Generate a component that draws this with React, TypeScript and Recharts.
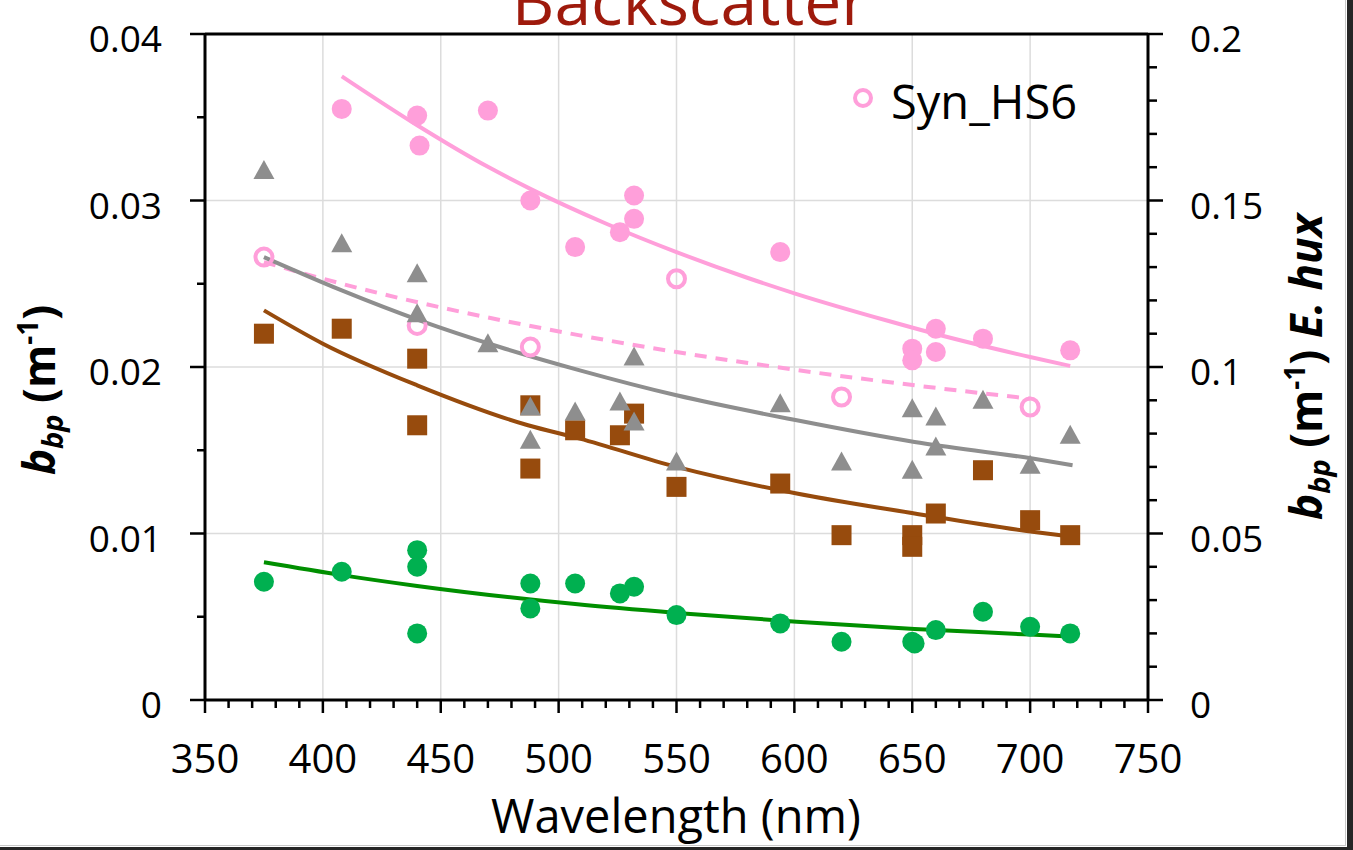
import React from 'react';
import {
  ComposedChart,
  Scatter,
  Line,
  XAxis,
  YAxis,
  CartesianGrid,
  ReferenceLine,
} from 'recharts';

// E. hux (right axis)
const ehuxNm = [408, 440, 441, 470, 488, 507, 526, 532, 532, 594, 650, 650, 660, 660, 680, 717];
const ehuxBbp = [0.1775, 0.1755, 0.1665, 0.177, 0.15, 0.136, 0.1405, 0.1515, 0.1445, 0.1345, 0.1055, 0.102, 0.1115, 0.1045, 0.1085, 0.105];
const ehuxFitNm = [408, 440, 470, 488, 520, 550, 580, 601, 640, 660, 700, 717];
const ehuxFitBbp = [0.1873, 0.1726, 0.1601, 0.1535, 0.1431, 0.1345, 0.1268, 0.1219, 0.1138, 0.1099, 0.103, 0.1003];

// Syn_HS6 (open circles)
const synNm = [375, 440, 488, 550, 620, 700];
const synBbp = [0.0266, 0.0225, 0.0212, 0.0253, 0.0182, 0.0176];
const synFitNm = [375, 399, 423, 450, 509, 550, 601, 651, 700];
const synFitBbp = [0.0263, 0.02534, 0.02446, 0.02358, 0.0219, 0.0209, 0.01982, 0.0189, 0.0181];

// grey triangles
const greyNm = [375, 408, 440, 440, 470, 488, 488, 507, 526, 532, 532, 550, 594, 620, 650, 650, 660, 660, 680, 700, 717];
const greyBbp = [0.0318, 0.0274, 0.0256, 0.0232, 0.0214, 0.0176, 0.0156, 0.0173, 0.0179, 0.0206, 0.0167, 0.0143, 0.0178, 0.0143, 0.0175, 0.0138, 0.017, 0.0152, 0.018, 0.0141, 0.0159];
const greyFitNm = [375, 408, 441, 475, 509, 550, 601, 651, 701, 718];
const greyFitBbp = [0.0266, 0.0246, 0.0228, 0.0212, 0.0198, 0.0183, 0.0168, 0.0155, 0.0145, 0.0141];

// brown squares
const brownNm = [375, 408, 440, 440, 488, 488, 507, 526, 532, 550, 594, 620, 650, 650, 660, 680, 700, 717];
const brownBbp = [0.022, 0.0223, 0.0205, 0.0165, 0.0177, 0.0139, 0.0162, 0.0159, 0.0172, 0.0128, 0.013, 0.0099, 0.0099, 0.0092, 0.0112, 0.0138, 0.0108, 0.0099];
const brownFitNm = [375, 400, 440, 487, 509, 550, 601, 651, 701, 718];
const brownFitBbp = [0.0234, 0.0214, 0.0189, 0.0165, 0.0157, 0.014, 0.0124, 0.0112, 0.0101, 0.0098];

// green circles
const greenNm = [375, 408, 440, 440, 440, 488, 488, 507, 526, 532, 550, 594, 620, 650, 651, 660, 680, 700, 717];
const greenBbp = [0.0071, 0.0077, 0.009, 0.008, 0.004, 0.007, 0.0055, 0.007, 0.0064, 0.0068, 0.0051, 0.0046, 0.0035, 0.0035, 0.0034, 0.0042, 0.0053, 0.0044, 0.004];
const greenFitNm = [375, 408, 440, 507, 550, 601, 651, 700, 718];
const greenFitBbp = [0.00827, 0.0075, 0.00685, 0.00576, 0.00523, 0.0047, 0.00427, 0.00393, 0.0038];

const xMajor = [350, 400, 450, 500, 550, 600, 650, 700, 750];
const xTicks = Array.from({ length: 41 }, (_, i) => 350 + i * 10);
const leftTicks = [0, 0.005, 0.01, 0.015, 0.02, 0.025, 0.03, 0.035, 0.04];
const leftMajor = [0, 0.01, 0.02, 0.03, 0.04];
const rightTicks = [0, 0.01, 0.02, 0.03, 0.04, 0.05, 0.06, 0.07, 0.08, 0.09, 0.1, 0.11, 0.12, 0.13, 0.14, 0.15, 0.16, 0.17, 0.18, 0.19, 0.2];
const rightMajor = [0, 0.05, 0.1, 0.15, 0.2];

const pts = (xs: number[], ys: number[]) => xs.map((x, i) => ({ x, y: ys[i] }));

const PINK = '#FF9FDA';
const GREY = '#8E8E8E';
const BROWN = '#974B0D';
const GREEN_DOT = '#00B050';
const GREEN_LINE = '#008F00';
const FONT = '"Open Sans", sans-serif';

const XTick = (props: any) => {
  const { x, y, payload } = props;
  const major = xMajor.includes(payload.value);
  return (
    <g>
      <line x1={x} x2={x} y1={y} y2={y + (major ? 13 : 8)} stroke="#000" strokeWidth={2.5} />
      {major && (
        <text x={x} y={y + 73} textAnchor="middle" fontSize={40} fontFamily={FONT} fill="#000">
          {payload.value}
        </text>
      )}
    </g>
  );
};

const LeftTick = (props: any) => {
  const { x, y, payload } = props;
  const major = leftMajor.includes(payload.value);
  return (
    <g>
      <line x1={x - (major ? 15 : 8)} x2={x} y1={y} y2={y} stroke="#000" strokeWidth={2.5} />
      {major && (
        <text x={x - 43} y={y + 18} textAnchor="end" fontSize={37} fontFamily={FONT} fill="#000">
          {String(payload.value)}
        </text>
      )}
    </g>
  );
};

const RightTick = (props: any) => {
  const { x, y, payload } = props;
  const major = rightMajor.includes(payload.value);
  return (
    <g>
      <line x1={x} x2={x + (major ? 15 : 9)} y1={y} y2={y} stroke="#000" strokeWidth={2.5} />
      {major && (
        <text x={x + 42} y={y + 18} textAnchor="start" fontSize={37} fontFamily={FONT} fill="#000">
          {String(payload.value)}
        </text>
      )}
    </g>
  );
};

const dot = (color: string) => (p: any) => <circle cx={p.cx} cy={p.cy} r={10} fill={color} />;
const ring = (p: any) => <circle cx={p.cx} cy={p.cy} r={8.5} fill="none" stroke={PINK} strokeWidth={4} />;
const square = (p: any) => <rect x={p.cx - 10} y={p.cy - 10} width={20} height={20} fill={BROWN} />;
const triangle = (p: any) => (
  <polygon points={`${p.cx},${p.cy - 10.5} ${p.cx - 10.5},${p.cy + 8.5} ${p.cx + 10.5},${p.cy + 8.5}`} fill={GREY} />
);

export default function App() {
  return (
    <div style={{ position: 'absolute', left: 0, top: 0, width: 1353, height: 850, background: '#fff', overflow: 'hidden' }}>
      <ComposedChart width={1353} height={850} margin={{ top: 34, right: 0, bottom: 0, left: 0 }}>
        <CartesianGrid
          xAxisId="x"
          yAxisId="left"
          stroke="#DCDCDC"
          strokeWidth={1.5}
          verticalValues={xMajor}
          horizontalValues={leftMajor}
        />
        <XAxis
          xAxisId="x"
          dataKey="x"
          type="number"
          domain={[350, 750]}
          ticks={xTicks}
          interval={0}
          height={150}
          tickSize={0}
          tickMargin={0}
          tickLine={false}
          tick={XTick}
          axisLine={{ stroke: '#000', strokeWidth: 3 }}
        />
        <YAxis
          yAxisId="left"
          dataKey="y"
          type="number"
          domain={[0, 0.04]}
          ticks={leftTicks}
          interval={0}
          width={205}
          tickSize={0}
          tickMargin={0}
          tickLine={false}
          tick={LeftTick}
          axisLine={{ stroke: '#000', strokeWidth: 3 }}
        />
        <YAxis
          yAxisId="right"
          orientation="right"
          dataKey="y"
          type="number"
          domain={[0, 0.2]}
          ticks={rightTicks}
          interval={0}
          width={205}
          tickSize={0}
          tickMargin={0}
          tickLine={false}
          tick={RightTick}
          axisLine={{ stroke: '#000', strokeWidth: 3 }}
        />
        <ReferenceLine xAxisId="x" yAxisId="left" y={0.04} stroke="#000" strokeWidth={3} />

        <Scatter xAxisId="x" yAxisId="right" data={pts(ehuxNm, ehuxBbp)} shape={dot(PINK)} isAnimationActive={false} />
        <Scatter xAxisId="x" yAxisId="left" data={pts(synNm, synBbp)} shape={ring} isAnimationActive={false} />
        <Scatter xAxisId="x" yAxisId="left" data={pts(brownNm, brownBbp)} shape={square} isAnimationActive={false} />
        <Scatter xAxisId="x" yAxisId="left" data={pts(greyNm, greyBbp)} shape={triangle} isAnimationActive={false} />
        <Scatter xAxisId="x" yAxisId="left" data={pts(greenNm, greenBbp)} shape={dot(GREEN_DOT)} isAnimationActive={false} />

        <Line xAxisId="x" yAxisId="right" data={pts(ehuxFitNm, ehuxFitBbp)} dataKey="y" type="monotone" stroke={PINK} strokeWidth={4} dot={false} isAnimationActive={false} />
        <Line xAxisId="x" yAxisId="left" data={pts(synFitNm, synFitBbp)} dataKey="y" type="monotone" stroke={PINK} strokeWidth={4} strokeDasharray="12 9" dot={false} isAnimationActive={false} />
        <Line xAxisId="x" yAxisId="left" data={pts(greyFitNm, greyFitBbp)} dataKey="y" type="monotone" stroke={GREY} strokeWidth={4} dot={false} isAnimationActive={false} />
        <Line xAxisId="x" yAxisId="left" data={pts(brownFitNm, brownFitBbp)} dataKey="y" type="monotone" stroke={BROWN} strokeWidth={4} dot={false} isAnimationActive={false} />
        <Line xAxisId="x" yAxisId="left" data={pts(greenFitNm, greenFitBbp)} dataKey="y" type="monotone" stroke={GREEN_LINE} strokeWidth={4} dot={false} isAnimationActive={false} />
      </ComposedChart>

      <svg width={1353} height={850} style={{ position: 'absolute', left: 0, top: 0, pointerEvents: 'none' }}>
        <text x={690} y={25} textAnchor="middle" fontSize={66} fontFamily={FONT} fill="#9E1A0C">
          Backscatter
        </text>

        <text x={676} y={833} textAnchor="middle" fontSize={47} fontFamily={FONT} fill="#000">
          Wavelength (nm)
        </text>

        <text transform="translate(55,390) rotate(-90)" textAnchor="middle" fontSize={44} fontWeight="bold" fontFamily={FONT} fill="#000">
          <tspan fontStyle="italic">b</tspan>
          <tspan fontStyle="italic" fontSize={29} dy={8}>bp</tspan>
          <tspan dy={-8}> (m</tspan>
          <tspan fontSize={28} dy={-17}>-1</tspan>
          <tspan dy={17}>)</tspan>
        </text>

        <text transform="translate(1322,367) rotate(-90)" textAnchor="middle" fontSize={44} fontWeight="bold" fontFamily={FONT} fill="#000">
          <tspan fontStyle="italic">b</tspan>
          <tspan fontStyle="italic" fontSize={29} dy={8}>bp</tspan>
          <tspan dy={-8}> (m</tspan>
          <tspan fontSize={28} dy={-17}>-1</tspan>
          <tspan dy={17}>) </tspan>
          <tspan fontStyle="italic">E. hux</tspan>
        </text>

        <circle cx={863} cy={98} r={8} fill="none" stroke={PINK} strokeWidth={4} />
        <text x={891} y={119} fontSize={47} fontFamily={FONT} fill="#000">
          Syn_HS6
        </text>

        <line x1={1345.5} x2={1345.5} y1={0} y2={846} stroke="#C8C8C8" strokeWidth={1} />
        <line x1={0} x2={1346} y1={845.5} y2={845.5} stroke="#C8C8C8" strokeWidth={1} />
        <rect x={1347} y={0} width={6} height={850} fill="#262626" />
        <rect x={0} y={847} width={1353} height={3} fill="#262626" />
      </svg>
    </div>
  );
}
